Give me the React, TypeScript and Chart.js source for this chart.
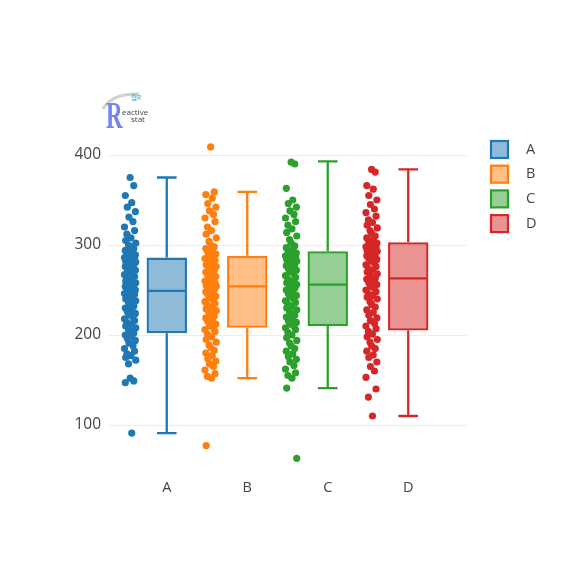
import React, { useEffect, useRef } from "react";
import { Chart, registerables } from "chart.js";

Chart.register(...registerables);

const CATEGORIES = ["A", "B", "C", "D"];
const COLORS = ["#1f77b4", "#ff7f0e", "#2ca02c", "#d62728"];
const FILLS = [
  "rgba(31,119,180,0.5)",
  "rgba(255,127,14,0.5)",
  "rgba(44,160,44,0.5)",
  "rgba(214,39,40,0.5)",
];

// box statistics
const Q1 = [202, 208, 210, 205];
const MEDIAN = [249, 254, 256, 263];
const Q3 = [286, 288, 293, 303];
const WHISKER_LOW = [91, 152, 141, 110];
const WHISKER_HIGH = [375, 359, 393, 384];

const Y_TICKS = [100, 200, 300, 400];

const POINTS_A = [
  375, 366, 355, 347, 342, 337, 331, 326, 320, 316, 312, 308, 305, 302, 300, 298, 296, 294,
  292, 290, 289, 288, 287, 286, 285, 284, 283, 282, 281, 280, 279, 278, 276, 275, 273, 272,
  270, 268, 267, 265, 263, 262, 260, 258, 257, 256, 255, 254, 253, 251, 250, 249, 248, 246,
  245, 243, 241, 240, 238, 236, 234, 232, 230, 228, 226, 224, 222, 220, 218, 216, 214, 212,
  210, 208, 206, 204, 202, 200, 198, 196, 194, 191, 188, 185, 182, 179, 177, 175, 172, 168,
  152, 149, 147, 91,
];
const POINTS_B = [
  409, 359, 356, 352, 346, 342, 338, 334, 330, 326, 320, 316, 312, 308, 304, 300, 298, 296,
  294, 292, 290, 288, 287, 285, 283, 282, 280, 278, 276, 275, 273, 272, 270, 268, 266, 265,
  263, 262, 260, 258, 257, 256, 255, 254, 253, 252, 250, 248, 247, 245, 243, 241, 239, 237,
  235, 233, 231, 229, 227, 225, 223, 221, 219, 217, 215, 212, 210, 208, 206, 204, 201, 198,
  195, 192, 189, 186, 183, 180, 177, 174, 171, 168, 165, 161, 157, 154, 152, 77,
];
const POINTS_C = [
  392, 390, 363, 350, 346, 342, 338, 334, 330, 326, 322, 318, 314, 310, 306, 302, 299, 297,
  295, 293, 291, 290, 289, 288, 287, 286, 285, 284, 282, 281, 280, 278, 277, 275, 274, 272,
  270, 268, 266, 264, 262, 260, 258, 256, 255, 254, 252, 250, 248, 246, 244, 242, 240, 238,
  236, 234, 232, 230, 228, 226, 224, 222, 220, 218, 216, 214, 212, 210, 208, 206, 203, 200,
  197, 194, 191, 188, 185, 182, 179, 176, 173, 170, 166, 162, 158, 155, 152, 141, 63,
];
const POINTS_D = [
  384, 381, 366, 362, 355, 350, 345, 340, 336, 332, 328, 325, 322, 319, 316, 313, 310, 308,
  306, 304, 302, 300, 299, 298, 297, 296, 295, 294, 293, 292, 291, 290, 288, 287, 285, 284,
  282, 280, 278, 276, 274, 272, 270, 268, 266, 264, 263, 262, 260, 258, 256, 254, 252, 250,
  248, 246, 244, 242, 240, 237, 234, 231, 228, 225, 222, 219, 216, 213, 210, 207, 204, 201,
  198, 195, 192, 188, 185, 182, 178, 175, 170, 165, 160, 153, 140, 131, 110,
];
const POINT_SERIES = [POINTS_A, POINTS_B, POINTS_C, POINTS_D];

// presentation constants
const POINT_POS = -0.455;
const JITTER = [0, 0.045, -0.06, 0.02, -0.035, 0.065, -0.015, 0.035, -0.07, 0.055, -0.04, 0.01, -0.055, 0.07, -0.02];
const CAP = 0.122;
const HALF_BOX = 0.25;
const FONT = "'Open Sans', sans-serif";

const overlayPlugin = {
  id: "overlay",
  afterDraw(chart: any) {
    const ctx = chart.ctx as CanvasRenderingContext2D;
    ctx.save();
    // legend
    CATEGORIES.forEach((name, i) => {
      const cy = 149 + i * 24.7;
      ctx.fillStyle = FILLS[i];
      ctx.fillRect(491, cy - 8, 17, 17);
      ctx.strokeStyle = COLORS[i];
      ctx.lineWidth = 2.2;
      ctx.strokeRect(491, cy - 8, 17, 17);
      ctx.fillStyle = "#444";
      ctx.font = `14.5px ${FONT}`;
      ctx.textBaseline = "middle";
      ctx.textAlign = "left";
      ctx.fillText(name, 526, cy + 0.5);
    });
    // logo
    ctx.strokeStyle = "rgba(170,170,170,0.55)";
    ctx.lineWidth = 3;
    ctx.beginPath();
    ctx.moveTo(103, 109);
    ctx.quadraticCurveTo(112, 93, 139, 94);
    ctx.stroke();
    ctx.save();
    ctx.translate(106, 128);
    ctx.scale(0.62, 1.05);
    ctx.fillStyle = "#7484f0";
    ctx.font = `bold 37px 'Liberation Serif', serif`;
    ctx.textBaseline = "alphabetic";
    ctx.textAlign = "left";
    ctx.fillText("R", 0, 0);
    ctx.restore();
    ctx.fillStyle = "#444";
    ctx.textAlign = "left";
    ctx.textBaseline = "alphabetic";
    ctx.font = `8px ${FONT}`;
    ctx.fillText("eactive", 122, 115);
    ctx.fillText("stat", 131, 122);
    ctx.fillStyle = "#46a3c8";
    ctx.font = `6.5px 'Noto Sans CJK KR', sans-serif`;
    ctx.fillText("웹R", 131, 100);
    ctx.restore();
  },
};

export default function App() {
  const ref = useRef<HTMLCanvasElement | null>(null);

  useEffect(() => {
    if (!ref.current) return;

    const boxDataset: any = {
      type: "bar",
      data: CATEGORIES.map((_, i) => ({ x: i, y: [Q1[i], Q3[i]] })),
      backgroundColor: FILLS,
      borderColor: COLORS,
      borderWidth: 2.3,
      borderSkipped: false,
      barPercentage: 0.502,
      categoryPercentage: 1,
      order: 3,
    };

    const whiskerDatasets: any[] = CATEGORIES.map((_, i) => ({
      type: "scatter",
      showLine: true,
      spanGaps: false,
      data: [
        { x: i, y: Q3[i] },
        { x: i, y: WHISKER_HIGH[i] },
        { x: i, y: null },
        { x: i - CAP, y: WHISKER_HIGH[i] },
        { x: i + CAP, y: WHISKER_HIGH[i] },
        { x: i, y: null },
        { x: i, y: Q1[i] },
        { x: i, y: WHISKER_LOW[i] },
        { x: i, y: null },
        { x: i - CAP, y: WHISKER_LOW[i] },
        { x: i + CAP, y: WHISKER_LOW[i] },
        { x: i, y: null },
        { x: i - HALF_BOX + 0.015, y: MEDIAN[i] },
        { x: i + HALF_BOX - 0.015, y: MEDIAN[i] },
      ],
      borderColor: COLORS[i],
      borderWidth: 2.3,
      pointRadius: 0,
      order: 2,
    }));

    const pointDatasets: any[] = POINT_SERIES.map((vals, i) => ({
      type: "scatter",
      data: vals.map((v, k) => ({ x: i + POINT_POS + JITTER[k % JITTER.length], y: v })),
      backgroundColor: COLORS[i],
      borderWidth: 0,
      pointRadius: 3.6,
      order: 1,
    }));

    const chart = new Chart(ref.current, {
      type: "scatter",
      data: { datasets: [boxDataset, ...whiskerDatasets, ...pointDatasets] },
      plugins: [overlayPlugin],
      options: {
        responsive: false,
        animation: false,
        layout: { padding: { left: 68, right: 104, top: 132.5, bottom: 76.4 } },
        plugins: { legend: { display: false }, tooltip: { enabled: false } },
        scales: {
          x: {
            type: "linear",
            min: -0.73,
            max: 3.73,
            offset: false,
            grid: { display: false, drawTicks: false, offset: false },
            border: { display: false },
            afterBuildTicks: (s: any) => {
              s.ticks = CATEGORIES.map((_, i) => ({ value: i }));
            },
            afterFit: (s: any) => {
              s.height = 30;
            },
            ticks: {
              callback: (v: any) => CATEGORIES[Math.round(Number(v))] ?? "",
              color: "#444",
              font: { family: FONT, size: 14.5 },
              padding: 6,
              maxRotation: 0,
            },
          },
          y: {
            type: "linear",
            min: 46,
            max: 425,
            grid: { color: "#eeeeee", lineWidth: 1, drawTicks: false },
            border: { display: false },
            afterBuildTicks: (s: any) => {
              s.ticks = Y_TICKS.map((v) => ({ value: v }));
            },
            afterFit: (s: any) => {
              s.width = 40;
            },
            ticks: {
              color: "#444",
              font: { family: FONT, size: 15.5 },
              padding: 7,
            },
          },
        },
      },
    });

    return () => chart.destroy();
  }, []);

  return (
    <div style={{ position: "absolute", left: 0, top: 0, width: 571, height: 580, background: "#fff" }}>
      <canvas ref={ref} width={571} height={580} style={{ width: 571, height: 580, display: "block" }} />
    </div>
  );
}
